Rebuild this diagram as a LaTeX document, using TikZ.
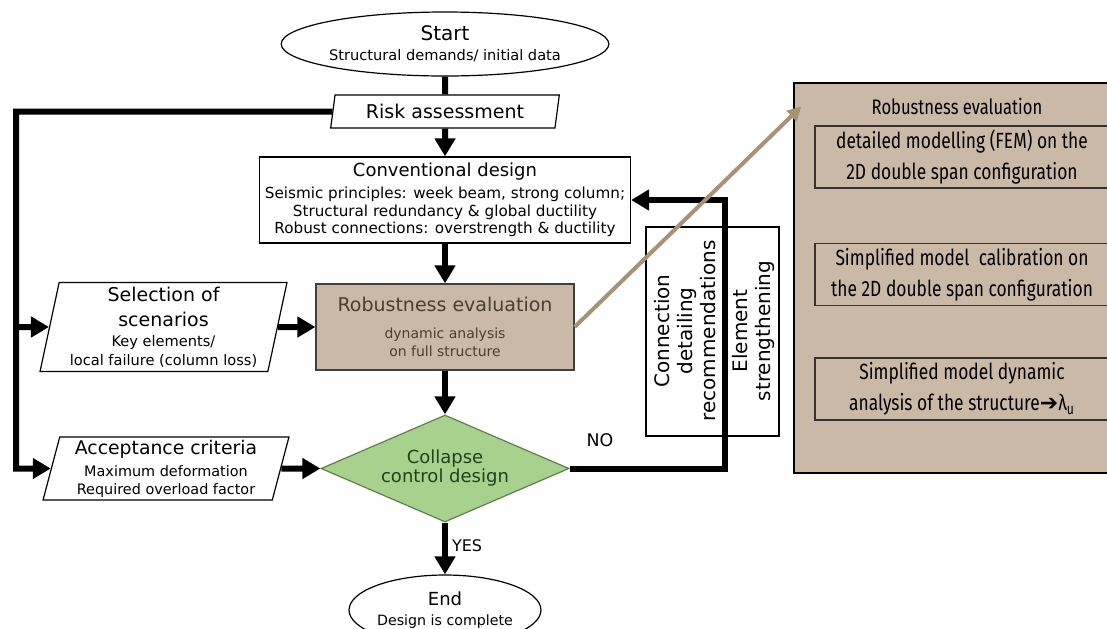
\documentclass[tikz,border=0pt]{standalone}
\usepackage{fontspec}
\setmainfont{DejaVu Sans}
\newfontfamily\condfont[FakeStretch=0.79]{Fira Sans}
\newfontfamily\arrowfont{DejaVu Sans}
\usetikzlibrary{shapes.geometric,arrows.meta,positioning}
\definecolor{tanfill}{HTML}{C9B9A6}
\definecolor{tanline}{HTML}{A89274}
\definecolor{tantext}{HTML}{4B3E30}
\definecolor{greenfill}{HTML}{A9D18E}
\definecolor{greentext}{HTML}{23401A}
\definecolor{greenedge}{HTML}{5E7F4C}
\newcommand{\headtxt}{\fontsize{9.5}{9.5}\selectfont}

\begin{document}
\begin{tikzpicture}[x=0.5pt, y=-0.5pt,
  every node/.style={inner sep=0pt, align=center},
  box/.style={draw, line width=0.6pt},
  terminal/.style={box, ellipse},
  inout/.style={box, trapezium, trapezium left angle=78, trapezium right angle=102, trapezium stretches=true},
  process/.style={box, rectangle},
  decision/.style={box, diamond, aspect=2.3, draw=greenedge, fill=greenfill, text=greentext},
  link/.style={line width=3pt},
  flow/.style={link, -{Triangle[width=10pt,length=9pt]}},
  tanlink/.style={line width=2pt, draw=tanline, -{Triangle[width=7pt,length=7pt]}},
  panelbox/.style={box, draw=black!80, minimum width=147pt, minimum height=31pt, font=\condfont\fontsize{11}{15.5}\selectfont}]
  \useasboundingbox (0,0) rectangle (1107,628);

  % Main column
  \node[terminal, minimum width=161.5pt, minimum height=32pt, font=\fontsize{7.3}{10}\selectfont] (start) at (445,44)
    {{\fontsize{10}{10}\selectfont Start}\\Structural demands/ initial data};
  \node[inout, minimum width=115pt, minimum height=16.5pt, font=\headtxt] (risk) at (445,111.5) {Risk assessment};
  \node[process, minimum width=185.5pt, minimum height=43pt, font=\fontsize{7.6}{8.75}\selectfont] (conv) at (445,200)
    {{\fontsize{9}{9}\selectfont Conventional design}\\[2.2pt]
     Seismic principles: week beam, strong column;\\
     Structural redundancy \& global ductility\\
     Robust connections: overstrength \& ductility};
  \node[process, fill=tanfill, draw=black!75, text=tantext, minimum width=129pt, minimum height=43pt, font=\fontsize{7}{9}\selectfont] (rob) at (445,327)
    {{\fontsize{9.5}{9.5}\selectfont Robustness evaluation}\\[4.5pt] dynamic analysis\\ on full structure};
  \node[decision, minimum width=124pt, minimum height=53.5pt, font=\fontsize{9}{9.5}\selectfont] (dec) at (445,468.5) {Collapse\\control design};
  \node[terminal, minimum width=93pt, minimum height=35pt, font=\fontsize{7.1}{10}\selectfont] (end) at (445,610)
    {{\fontsize{9}{9}\selectfont End}\\Design is complete};

  % Inputs on the left
  \node[inout, minimum width=123.5pt, minimum height=44.5pt, font=\fontsize{7.3}{9.7}\selectfont] (sel) at (163.5,327)
    {{\headtxt Selection of}\\[2.8pt]{\headtxt scenarios}\\[0.3pt] Key elements/\\ local failure (column loss)};
  \node[inout, trapezium left angle=76, trapezium right angle=104, minimum width=123pt, minimum height=31.5pt, font=\fontsize{7.2}{9}\selectfont] (acc) at (166,468.5)
    {{\fontsize{9.4}{9.4}\selectfont Acceptance criteria}\\[2pt] Maximum deformation\\ Required overload factor};

  % Redesign options
  \node[box, minimum width=66.5pt, minimum height=104.5pt] (opts) at (712.5,331.5) {};
  \node[rotate=90, font=\fontsize{10}{11.5}\selectfont] (detail) at (685,331) {Connection\\detailing\\recommendations};
  \node[rotate=90, font=\fontsize{10}{11.5}\selectfont] (strength) at (753,331) {Element\\strengthening};

  % Detail panel
  \node[box, fill=tanfill, minimum width=168pt, minimum height=195pt] (panel) at (962,278) {};
  \node[font=\condfont\fontsize{10.5}{10.5}\selectfont] (ptitle) at (957,106) {Robustness evaluation};
  \node[panelbox] (fem) at (962,157) {detailed modelling (FEM) on the\\2D double span configuration};
  \node[panelbox] (calib) at (962,274.5) {Simplified model~ calibration on\\the 2D double span configuration};
  \node[panelbox] (dyn) at (962,389) {Simplified model dynamic\\analysis of the structure{\arrowfont ➔}λ\textsubscript{u}};

  % Links
  \draw[link] (start) -- (risk);
  \draw[flow] (risk) -- (conv);
  \draw[flow] (conv) -- (rob);
  \draw[flow] (sel) -- (rob);
  \draw[flow] (rob) -- (dec);
  \draw[flow] (acc) -- (dec);
  \draw[flow] (dec) -- node[right=2pt, pos=0.45, font=\fontsize{8}{8}\selectfont] (yes) {YES} (end);

  % Left feed line
  \coordinate (ltop) at (16,111.5);
  \draw[flow] (risk) -- (ltop) |- (acc);
  \draw[flow] (ltop |- sel) -- (sel);

  % NO loop
  \coordinate (nobend) at (725,200);
  \draw[flow] (dec) -| (nobend) -- (conv);
  \node[font=\fontsize{8.7}{8.7}\selectfont] (no) at (600,440) {NO};

  % Zoom arrow
  \draw[tanlink] (rob.east) -- ([shift={(8,24)}]panel.north west);
\end{tikzpicture}
\end{document}
